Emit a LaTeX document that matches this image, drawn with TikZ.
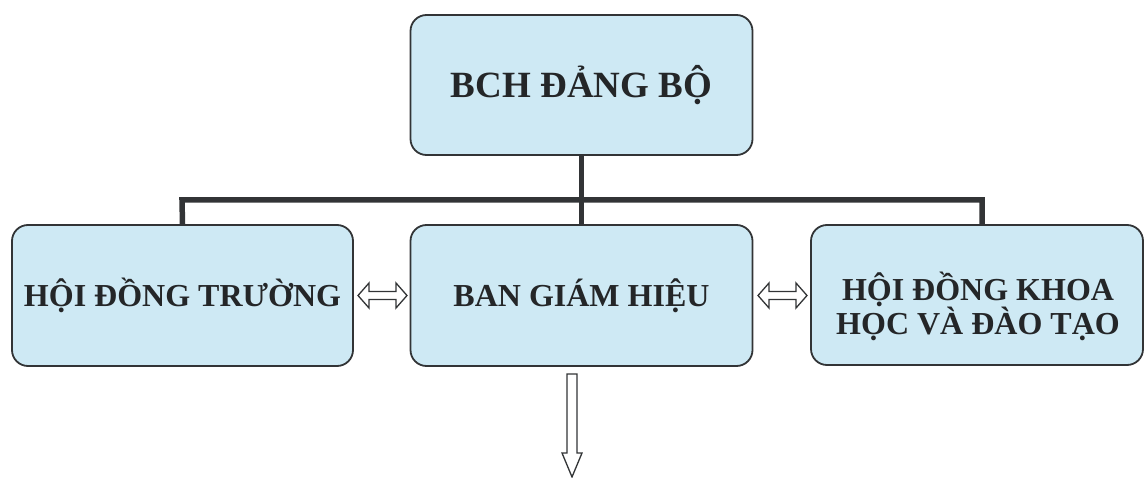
\documentclass[tikz,border=0pt]{standalone}
\usepackage{fontspec}
\setmainfont{Liberation Serif}
\usetikzlibrary{calc}
\definecolor{boxfill}{RGB}{206,233,244}
\definecolor{boxline}{RGB}{50,52,54}
\definecolor{txt}{RGB}{36,38,40}
\tikzset{
  orgbox/.style={draw=boxline, line width=1.8pt, fill=boxfill, rounded corners=16pt,
    text=txt, font=\bfseries\fontsize{32}{34}\selectfont, align=center, inner sep=0pt},
  lbl/.style={text=txt, font=\bfseries\fontsize{32}{34}\selectfont, align=center, inner sep=0pt},
  bus/.style={draw=boxline, line width=5.5pt},
  blockarrow/.style={draw=boxline, line width=1.3pt, fill=white, line join=miter}
}
\begin{document}
\begin{tikzpicture}[x=1pt,y=-1pt]
\useasboundingbox (0,0) rectangle (1145,478);
\node[orgbox, minimum width=342pt, minimum height=140pt, font=\bfseries\fontsize{37}{42}\selectfont] (top) at (581.5,85) {BCH ĐẢNG BỘ};
\node[orgbox, minimum width=341pt, minimum height=141pt] (left) at (182.5,295.5) {HỘI ĐỒNG TRƯỜNG};
\node[orgbox, minimum width=342pt, minimum height=141pt] (mid) at (581.5,295.5) {BAN GIÁM HIỆU};
\node[orgbox, minimum width=332pt, minimum height=140pt] (right) at (977,295) {};
\node[lbl] (rightlbl) at (978,306) {HỘI ĐỒNG KHOA\\HỌC VÀ ĐÀO TẠO};
\coordinate (lc) at (182,200);
\coordinate (rc) at (982,200);
\coordinate (jc) at (top.south |- lc);
\draw[bus] (top.south) -- (jc);
\draw[bus, line join=miter] (left.north) -- (lc) -- (rc) -- (rc |- right.north);
\draw[bus] (jc) -- (mid.north);
% double arrows
\draw[blockarrow] (358,295.5) -- (369,283) -- (369,291.5) -- (396,291.5) -- (396,283) -- (407,295.5)
  -- (396,308) -- (396,299.5) -- (369,299.5) -- (369,308) -- cycle;
\draw[blockarrow] (758,295.5) -- (769,283) -- (769,291.5) -- (796,291.5) -- (796,283) -- (807,295.5)
  -- (796,308) -- (796,299.5) -- (769,299.5) -- (769,308) -- cycle;
% down arrow
\draw[blockarrow] (567,374) -- (577,374) -- (577,453) -- (582,453) -- (572,477) -- (562,453) -- (567,453) -- cycle;
\end{tikzpicture}
\end{document}
